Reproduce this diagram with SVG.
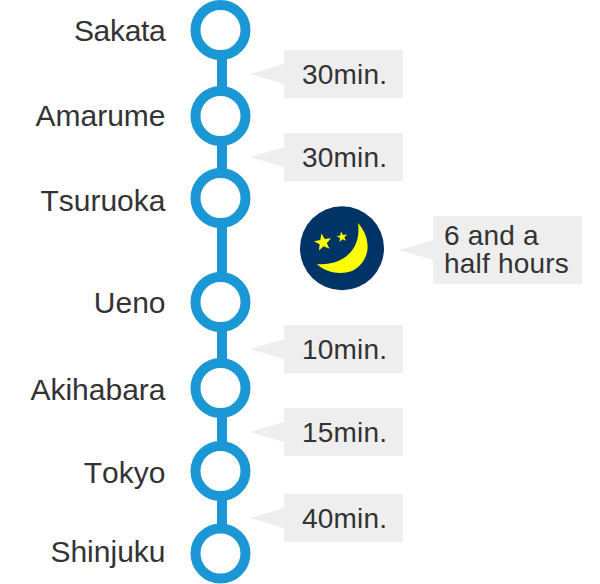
<svg xmlns="http://www.w3.org/2000/svg" width="600" height="584" viewBox="0 0 600 584">
<style>
text{font-family:"Liberation Sans",Arial,sans-serif;font-size:30px;fill:#333;font-kerning:none}
.st{text-anchor:end}
.d{font-size:28px;letter-spacing:.2px}
.stop{fill:#fff;stroke:#1b97d6;stroke-width:10}
.line{stroke:#1b97d6;stroke-width:10;fill:none}
.b{fill:#eee}
</style>
<rect width="600" height="584" fill="#fff"/>
<g id="connectors">
<path class="line" d="M222 30V553"/>
</g>
<g id="sakata"><circle class="stop" cx="220.500" cy="30" r="25"/><text class="st" x="165.500" y="41" style="letter-spacing:-.3px">Sakata</text></g>
<g id="amarume"><circle class="stop" cx="220.500" cy="116" r="25"/><text class="st" x="165.500" y="126">Amarume</text></g>
<g id="tsuruoka"><circle class="stop" cx="220.500" cy="198" r="25"/><text class="st" x="165.500" y="211">Tsuruoka</text></g>
<g id="ueno"><circle class="stop" cx="220.500" cy="302" r="25"/><text class="st" x="165.500" y="313">Ueno</text></g>
<g id="akihabara"><circle class="stop" cx="220.500" cy="388" r="25"/><text class="st" x="165.500" y="400">Akihabara</text></g>
<g id="tokyo"><circle class="stop" cx="220.500" cy="471" r="25"/><text class="st" x="165.500" y="483">Tokyo</text></g>
<g id="shinjuku"><circle class="stop" cx="220.500" cy="553.500" r="25"/><text class="st" x="165.500" y="562">Shinjuku</text></g>
<g id="d1"><path class="b" d="M284 50H403V98H284V84L250 74L284 64Z"/><text class="d" x="302" y="84">30min.</text></g>
<g id="d2"><path class="b" d="M284 133H403V181H284V167L250 157L284 147Z"/><text class="d" x="302" y="167">30min.</text></g>
<g id="d3"><path class="b" d="M284 325H403V373H284V359L250 349L284 339Z"/><text class="d" x="302" y="359">10min.</text></g>
<g id="d4"><path class="b" d="M284 408H403V456H284V442L250 432L284 422Z"/><text class="d" x="302" y="442">15min.</text></g>
<g id="d5"><path class="b" d="M284 494H403V542H284V528L250 518L284 508Z"/><text class="d" x="302" y="528">40min.</text></g>
<g id="night">
<circle cx="342" cy="248.300" r="42" fill="#003366"/>
<path d="M358 223C373 240 370 262 352 271C341 275 326 273 317 264C340 266 362 252 358 223Z" fill="#ff0"/>
<path d="M321.400 233.600L324.700 239.100L331 238.300L326.800 243L329.500 248.800L323.700 246.200L319 250.600L319.600 244.300L314 241.200L320.300 239.900Z" fill="#ff0"/>
<path d="M341 231.600L343 234.900L347.200 234.400L344.300 237.300L346 240.800L342.400 239.300L339.600 241.900L340 238.100L336.600 236.200L340.300 235.400Z" fill="#ff0"/>
</g>
<g id="d6"><path class="b" d="M433 216H582V284H433V260L399 250L433 240Z"/><text class="d" x="444" y="245">6 and a</text><text class="d" x="444" y="273">half hours</text></g>
</svg>
